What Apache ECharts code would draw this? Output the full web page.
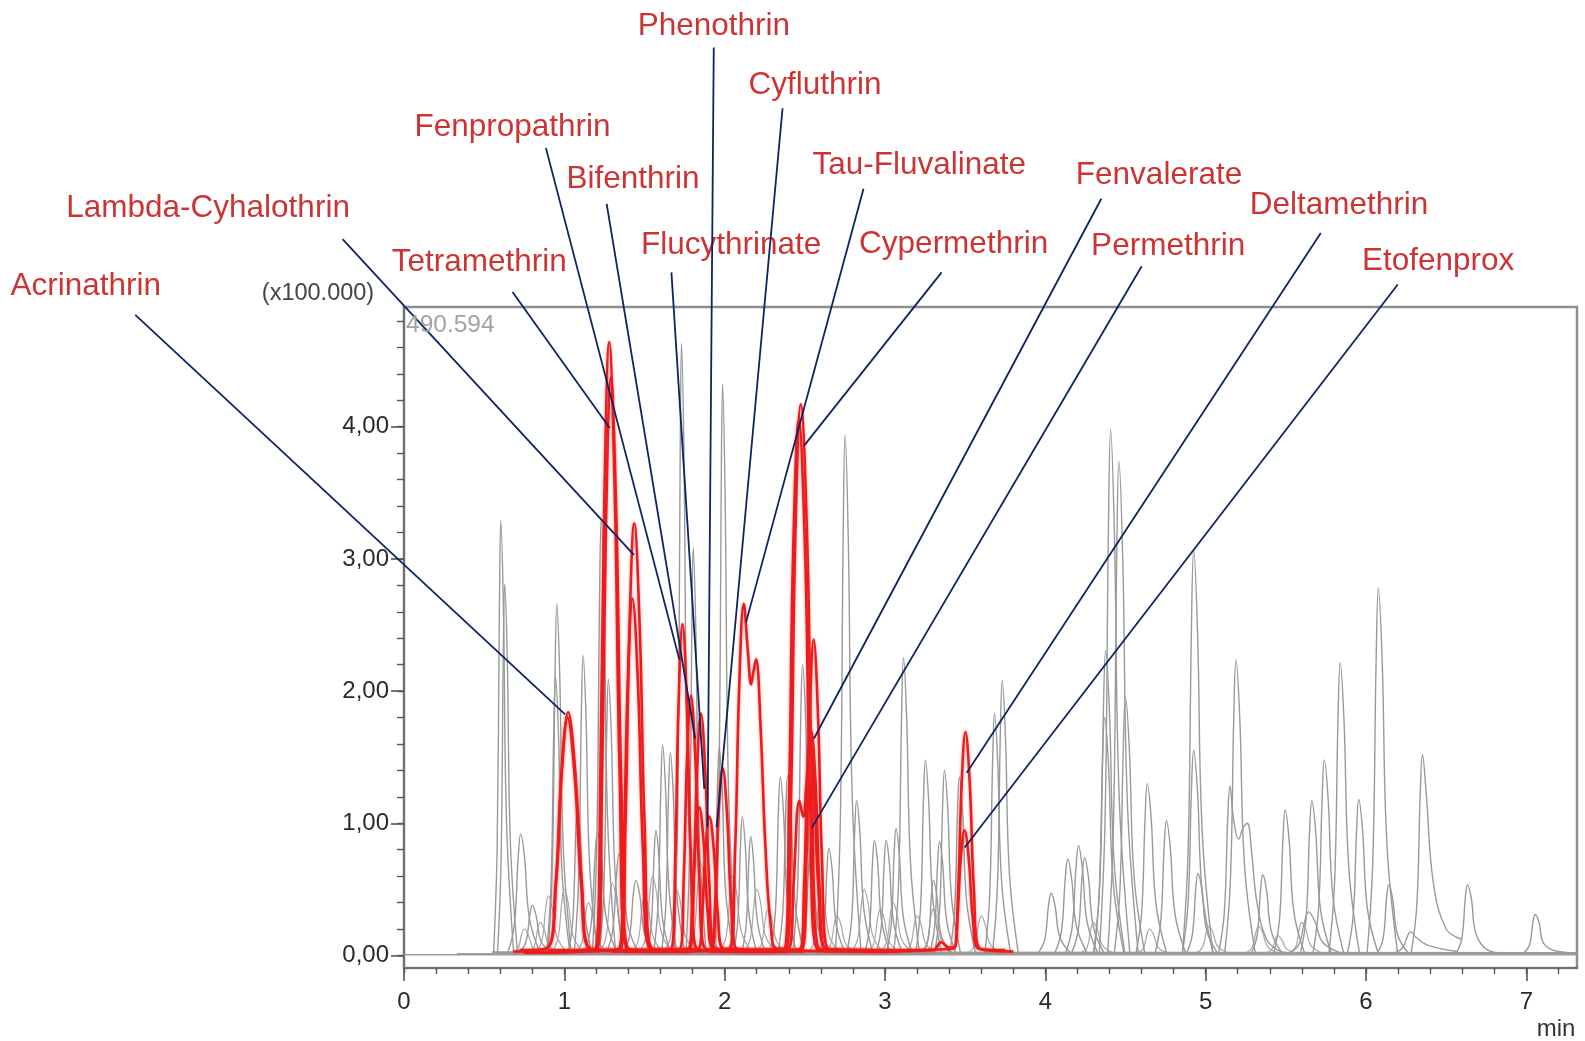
<!DOCTYPE html>
<html>
<head>
<meta charset="utf-8">
<script src="https://cdn.jsdelivr.net/npm/echarts@6/dist/echarts.min.js"></script>
<style>
html,body{margin:0;padding:0;background:#fff;}
#chart{width:1585px;height:1041px;}
</style>
</head>
<body>
<div id="chart"></div>
<script>
// Retention time (min) vs. intensity (x100.000) for each MRM trace.

// Background (non-target) transitions, early part of the run
const grayEarly = [
  [[0.559,0.02],[0.581,0.82],[0.595,2.63],[0.604,3.29],[0.620,2.63],[0.640,0.99],[0.684,0.02]],
  [[0.583,0.02],[0.605,0.70],[0.619,2.25],[0.628,2.81],[0.644,2.25],[0.664,0.84],[0.708,0.02]],
  [[0.648,0.02],[0.688,0.23],[0.712,0.74],[0.728,0.92],[0.752,0.74],[0.782,0.28],[0.848,0.02]],
  [[0.72,0.02],[0.76,0.10],[0.784,0.30],[0.80,0.38],[0.824,0.30],[0.854,0.11],[0.92,0.02]],
  [[0.898,0.02],[0.925,0.67],[0.942,2.13],[0.953,2.66],[0.971,2.13],[0.994,0.80],[1.043,0.02]],
  [[0.890,0.02],[0.917,0.53],[0.934,1.69],[0.945,2.11],[0.963,1.69],[0.986,0.63],[1.035,0.02]],
  [[1.027,0.02],[1.054,0.29],[1.071,0.92],[1.082,1.15],[1.100,0.92],[1.123,0.35],[1.172,0.02]],
  [[1.062,0.02],[1.089,0.57],[1.106,1.82],[1.117,2.27],[1.135,1.82],[1.158,0.68],[1.207,0.02]],
  [[1.127,0.02],[1.167,0.23],[1.191,0.74],[1.207,0.93],[1.231,0.74],[1.261,0.28],[1.327,0.02]],
  [[1.175,0.02],[1.202,0.83],[1.219,2.64],[1.230,3.30],[1.248,2.64],[1.271,0.99],[1.320,0.02]],
  [[1.220,0.02],[1.247,0.52],[1.264,1.67],[1.275,2.09],[1.293,1.67],[1.316,0.63],[1.365,0.02]],
  [[1.262,0.02],[1.302,0.19],[1.326,0.62],[1.342,0.77],[1.366,0.62],[1.396,0.23],[1.462,0.02]],
  [[1.366,0.02],[1.406,0.14],[1.430,0.46],[1.446,0.57],[1.470,0.46],[1.500,0.17],[1.566,0.02]],
  [[1.516,0.02],[1.543,0.24],[1.560,0.76],[1.571,0.945],[1.589,0.76],[1.612,0.28],[1.661,0.02]],
  [[1.558,0.02],[1.585,0.40],[1.602,1.27],[1.613,1.59],[1.631,1.27],[1.654,0.48],[1.703,0.02]],
  [[1.606,0.02],[1.633,0.38],[1.650,1.23],[1.661,1.535],[1.679,1.23],[1.702,0.46],[1.751,0.02]],
  [[1.686,0.02],[1.708,1.16],[1.722,3.70],[1.731,4.63],[1.747,3.70],[1.767,1.39],[1.811,0.02]],
  [[1.759,0.02],[1.781,0.77],[1.795,2.47],[1.804,3.085],[1.820,2.47],[1.840,0.93],[1.884,0.02]],
  [[1.942,0.02],[1.964,1.08],[1.978,3.46],[1.987,4.32],[2.003,3.46],[2.023,1.30],[2.067,0.02]],
  [[1.911,0.02],[1.938,0.39],[1.955,1.26],[1.966,1.575],[1.984,1.26],[2.007,0.47],[2.056,0.02]],
  [[2.055,0.02],[2.082,0.26],[2.099,0.84],[2.110,1.05],[2.128,0.84],[2.151,0.32],[2.200,0.02]],
  [[2.107,0.02],[2.134,0.23],[2.151,0.72],[2.162,0.90],[2.180,0.72],[2.203,0.27],[2.252,0.02]]
];

// Background transitions, middle part of the run
const grayMid = [
  [[2.287,0.02],[2.317,0.34],[2.335,1.08],[2.347,1.35],[2.367,1.08],[2.392,0.41],[2.447,0.02]],
  [[2.333,0.02],[2.363,0.34],[2.381,1.09],[2.393,1.36],[2.413,1.09],[2.438,0.41],[2.493,0.02]],
  [[2.426,0.02],[2.456,0.55],[2.474,1.76],[2.486,2.20],[2.506,1.76],[2.531,0.66],[2.586,0.02]],
  [[2.474,0.02],[2.504,0.20],[2.522,0.63],[2.534,0.79],[2.554,0.63],[2.579,0.24],[2.634,0.02]],
  [[2.590,0.02],[2.620,0.20],[2.638,0.65],[2.650,0.81],[2.670,0.65],[2.695,0.24],[2.750,0.02]],
  [[2.691,0.02],[2.721,0.99],[2.739,3.15],[2.751,3.94],[2.771,3.15],[2.796,1.18],[2.851,0.02]],
  [[2.763,0.02],[2.793,0.29],[2.811,0.94],[2.823,1.17],[2.843,0.94],[2.868,0.35],[2.923,0.02]],
  [[2.874,0.02],[2.904,0.22],[2.922,0.70],[2.934,0.87],[2.954,0.70],[2.979,0.26],[3.034,0.02]],
  [[2.947,0.02],[2.977,0.22],[2.995,0.70],[3.007,0.87],[3.027,0.70],[3.052,0.26],[3.107,0.02]],
  [[3.009,0.02],[3.039,0.24],[3.057,0.77],[3.069,0.96],[3.089,0.77],[3.114,0.29],[3.169,0.02]],
  [[3.055,0.02],[3.085,0.56],[3.103,1.80],[3.115,2.255],[3.135,1.80],[3.160,0.68],[3.215,0.02]],
  [[3.192,0.02],[3.222,0.37],[3.240,1.18],[3.252,1.48],[3.272,1.18],[3.297,0.44],[3.352,0.02]],
  [[3.242,0.02],[3.272,0.14],[3.290,0.46],[3.302,0.57],[3.322,0.46],[3.347,0.17],[3.402,0.02]],
  [[3.280,0.02],[3.310,0.22],[3.328,0.69],[3.340,0.86],[3.360,0.69],[3.385,0.26],[3.440,0.02]],
  [[3.311,0.02],[3.341,0.35],[3.359,1.12],[3.371,1.40],[3.391,1.12],[3.416,0.42],[3.471,0.02]],
  [[3.404,0.02],[3.434,0.34],[3.452,1.08],[3.464,1.35],[3.484,1.08],[3.509,0.41],[3.564,0.02]],
  [[3.623,0.02],[3.653,0.46],[3.671,1.46],[3.683,1.83],[3.703,1.46],[3.728,0.55],[3.783,0.02]],
  [[3.671,0.02],[3.701,0.52],[3.719,1.66],[3.731,2.08],[3.751,1.66],[3.776,0.62],[3.831,0.02]]
];

// Background transitions, late part of the run
const grayLate = [
  [[3.956,0.02],[3.996,0.12],[4.020,0.38],[4.036,0.47],[4.060,0.38],[4.090,0.14],[4.156,0.02]],
  [[4.060,0.02],[4.100,0.18],[4.124,0.58],[4.140,0.73],[4.164,0.58],[4.194,0.22],[4.260,0.02]],
  [[4.127,0.02],[4.167,0.21],[4.191,0.66],[4.207,0.83],[4.231,0.66],[4.261,0.25],[4.327,0.02]],
  [[4.165,0.02],[4.205,0.19],[4.229,0.59],[4.245,0.74],[4.269,0.59],[4.299,0.22],[4.365,0.02]],
  [[4.306,0.02],[4.341,0.58],[4.362,1.84],[4.376,2.305],[4.400,1.84],[4.430,0.69],[4.496,0.02]],
  [[4.300,0.02],[4.335,0.45],[4.356,1.44],[4.370,1.80],[4.394,1.44],[4.424,0.54],[4.490,0.02]],
  [[4.337,0.02],[4.372,1.00],[4.393,3.18],[4.407,3.98],[4.431,3.18],[4.461,1.19],[4.527,0.02]],
  [[4.389,0.02],[4.424,0.94],[4.445,2.99],[4.459,3.74],[4.483,2.99],[4.513,1.12],[4.579,0.02]],
  [[4.430,0.02],[4.465,0.49],[4.486,1.56],[4.500,1.95],[4.524,1.56],[4.554,0.59],[4.620,0.02]],
  [[4.566,0.02],[4.601,0.33],[4.622,1.04],[4.636,1.30],[4.660,1.04],[4.690,0.39],[4.756,0.02]],
  [[4.685,0.02],[4.720,0.26],[4.741,0.82],[4.755,1.02],[4.779,0.82],[4.809,0.31],[4.875,0.02]],
  [[4.855,0.02],[4.890,0.77],[4.911,2.46],[4.925,3.07],[4.949,2.46],[4.979,0.92],[5.045,0.02]],
  [[4.855,0.02],[4.890,0.39],[4.911,1.24],[4.925,1.55],[4.949,1.24],[4.979,0.47],[5.045,0.02]],
  [[4.882,0.02],[4.917,0.16],[4.938,0.50],[4.952,0.62],[4.976,0.50],[5.006,0.19],[5.072,0.02]],
  [[5.081,0.02],[5.116,0.32],[5.137,1.02],[5.151,1.28],[5.175,1.02],[5.205,0.88],[5.235,0.97],[5.260,1.00],[5.285,0.80],[5.320,0.40],[5.380,0.12],[5.450,0.04],[5.500,0.02]],
  [[5.119,0.02],[5.154,0.56],[5.175,1.79],[5.189,2.24],[5.213,1.79],[5.243,0.67],[5.309,0.02]],
  [[5.286,0.02],[5.321,0.15],[5.342,0.49],[5.356,0.61],[5.380,0.49],[5.410,0.18],[5.476,0.02]],
  [[5.426,0.02],[5.461,0.28],[5.482,0.88],[5.496,1.10],[5.520,0.88],[5.550,0.33],[5.616,0.02]],
  [[5.520,0.02],[5.580,0.08],[5.618,0.26],[5.642,0.33],[5.680,0.26],[5.730,0.10],[5.840,0.02]],
  [[5.592,0.02],[5.627,0.29],[5.648,0.94],[5.662,1.17],[5.686,0.94],[5.716,0.35],[5.782,0.02]],
  [[5.670,0.02],[5.705,0.37],[5.726,1.18],[5.740,1.48],[5.764,1.18],[5.794,0.44],[5.860,0.02]],
  [[5.769,0.02],[5.804,0.55],[5.825,1.77],[5.839,2.215],[5.863,1.77],[5.893,0.66],[5.959,0.02]],
  [[5.885,0.02],[5.920,0.30],[5.941,0.94],[5.955,1.18],[5.979,0.94],[6.009,0.35],[6.075,0.02]],
  [[6.007,0.02],[6.042,0.70],[6.063,2.22],[6.077,2.78],[6.101,2.22],[6.131,0.83],[6.197,0.02]],
  [[6.072,0.02],[6.107,0.13],[6.128,0.43],[6.142,0.535],[6.166,0.43],[6.196,0.16],[6.262,0.02]],
  [[6.180,0.02],[6.230,0.06],[6.260,0.15],[6.278,0.18],[6.310,0.14],[6.380,0.08],[6.570,0.03]],
  [[6.282,0.02],[6.317,0.38],[6.338,1.22],[6.352,1.52],[6.376,1.22],[6.420,0.55],[6.500,0.20],[6.600,0.12]],
  [[6.563,0.02],[6.598,0.13],[6.619,0.43],[6.633,0.535],[6.657,0.43],[6.687,0.16],[6.760,0.04],[6.850,0.02]],
  [[6.985,0.02],[7.020,0.08],[7.041,0.25],[7.055,0.31],[7.079,0.25],[7.109,0.09],[7.200,0.03],[7.316,0.02]]
];

// Small background peaks close to the baseline
const grayMinor = [
  [[0.67,0.02],[0.71,0.05],[0.734,0.16],[0.75,0.20],[0.774,0.16],[0.804,0.06],[0.87,0.02]],
  [[0.77,0.02],[0.81,0.06],[0.834,0.20],[0.85,0.25],[0.874,0.20],[0.904,0.08],[0.97,0.02]],
  [[0.82,0.02],[0.86,0.11],[0.884,0.36],[0.90,0.45],[0.924,0.36],[0.954,0.14],[1.02,0.02]],
  [[0.92,0.02],[0.96,0.13],[0.984,0.40],[1.00,0.50],[1.024,0.40],[1.054,0.15],[1.12,0.02]],
  [[1.07,0.02],[1.11,0.10],[1.134,0.32],[1.15,0.40],[1.174,0.32],[1.204,0.12],[1.27,0.02]],
  [[1.22,0.02],[1.26,0.14],[1.284,0.44],[1.30,0.55],[1.324,0.44],[1.354,0.17],[1.42,0.02]],
  [[1.42,0.02],[1.46,0.11],[1.484,0.36],[1.50,0.45],[1.524,0.36],[1.554,0.14],[1.62,0.02]],
  [[1.47,0.02],[1.51,0.15],[1.534,0.48],[1.55,0.60],[1.574,0.48],[1.604,0.18],[1.67,0.02]],
  [[1.62,0.02],[1.66,0.13],[1.684,0.40],[1.70,0.50],[1.724,0.40],[1.754,0.15],[1.82,0.02]],
  [[1.77,0.02],[1.81,0.18],[1.834,0.56],[1.85,0.70],[1.874,0.56],[1.904,0.21],[1.97,0.02]],
  [[1.97,0.02],[2.01,0.15],[2.034,0.48],[2.05,0.60],[2.074,0.48],[2.104,0.18],[2.17,0.02]],
  [[2.12,0.02],[2.16,0.13],[2.184,0.40],[2.20,0.50],[2.224,0.40],[2.254,0.15],[2.32,0.02]],
  [[2.19,0.02],[2.23,0.09],[2.254,0.28],[2.27,0.35],[2.294,0.28],[2.324,0.11],[2.39,0.02]],
  [[2.52,0.02],[2.56,0.11],[2.584,0.36],[2.60,0.45],[2.624,0.36],[2.654,0.14],[2.72,0.02]],
  [[2.62,0.02],[2.66,0.08],[2.684,0.24],[2.70,0.30],[2.724,0.24],[2.754,0.09],[2.82,0.02]],
  [[2.79,0.02],[2.83,0.13],[2.854,0.40],[2.87,0.50],[2.894,0.40],[2.924,0.15],[2.99,0.02]],
  [[2.89,0.02],[2.93,0.09],[2.954,0.28],[2.97,0.35],[2.994,0.28],[3.024,0.11],[3.09,0.02]],
  [[2.97,0.02],[3.01,0.10],[3.034,0.32],[3.05,0.40],[3.074,0.32],[3.104,0.12],[3.17,0.02]],
  [[3.12,0.02],[3.16,0.08],[3.184,0.24],[3.20,0.30],[3.224,0.24],[3.254,0.09],[3.32,0.02]],
  [[3.22,0.02],[3.26,0.09],[3.284,0.28],[3.30,0.35],[3.324,0.28],[3.354,0.11],[3.42,0.02]],
  [[3.52,0.02],[3.56,0.08],[3.584,0.24],[3.60,0.30],[3.624,0.24],[3.654,0.09],[3.72,0.02]],
  [[4.22,0.02],[4.26,0.06],[4.284,0.20],[4.30,0.25],[4.324,0.20],[4.354,0.08],[4.42,0.02]],
  [[4.57,0.02],[4.61,0.05],[4.634,0.16],[4.65,0.20],[4.674,0.16],[4.704,0.06],[4.77,0.02]],
  [[4.94,0.02],[4.98,0.06],[5.004,0.18],[5.02,0.22],[5.044,0.18],[5.074,0.07],[5.14,0.02]],
  [[5.25,0.02],[5.29,0.06],[5.314,0.18],[5.33,0.22],[5.354,0.18],[5.384,0.07],[5.45,0.02]],
  [[5.37,0.02],[5.41,0.04],[5.434,0.12],[5.45,0.15],[5.474,0.12],[5.504,0.05],[5.57,0.02]],
  [[5.52,0.02],[5.56,0.06],[5.584,0.20],[5.60,0.25],[5.624,0.20],[5.654,0.08],[5.72,0.02]]
];

// Baselines of the recorded transitions
const baselines = [
  [[0.00,0.005],[7.316,0.005]],
  [[0.33,0.012],[7.316,0.012]],
  [[0.55,0.025],[7.30,0.02]]
];

// Pyrethroid transitions
const redTraces = [
  [[0.68,0.03],[0.890,0.05],[0.949,0.55],[0.984,1.38],[1.024,1.84],[1.069,1.38],[1.109,0.55],[1.164,0.05],[1.45,0.03]],
  [[0.72,0.04],[0.886,0.05],[0.945,0.54],[0.980,1.35],[1.020,1.80],[1.065,1.35],[1.105,0.54],[1.160,0.05],[1.30,0.04]],
  [[0.75,0.02],[1.195,0.05],[1.225,1.39],[1.250,3.48],[1.280,4.64],[1.315,3.48],[1.345,1.39],[1.390,0.05],[1.60,0.03]],
  [[0.90,0.04],[1.205,0.05],[1.235,1.31],[1.260,3.28],[1.290,4.37],[1.325,3.28],[1.355,1.31],[1.400,0.05],[1.70,0.04]],
  [[1.00,0.03],[1.351,0.05],[1.381,0.98],[1.406,2.45],[1.436,3.27],[1.471,2.45],[1.501,0.98],[1.546,0.05],[1.80,0.03]],
  [[1.10,0.04],[1.340,0.05],[1.370,0.81],[1.395,2.03],[1.425,2.70],[1.460,2.03],[1.490,0.81],[1.535,0.05],[1.75,0.04]],
  [[1.30,0.03],[1.667,0.05],[1.692,0.75],[1.712,1.88],[1.737,2.507],[1.765,1.88],[1.789,0.75],[1.827,0.05],[2.20,0.03]],
  [[1.35,0.04],[1.720,0.05],[1.745,0.59],[1.765,1.47],[1.790,1.965],[1.818,1.47],[1.842,0.59],[1.880,0.05],[2.30,0.03]],
  [[1.40,0.03],[1.782,0.05],[1.807,0.55],[1.827,1.37],[1.852,1.83],[1.880,1.37],[1.904,0.55],[1.942,0.05],[2.40,0.03]],
  [[1.50,0.04],[1.772,0.05],[1.797,0.34],[1.817,0.84],[1.842,1.12],[1.870,0.84],[1.894,0.34],[1.932,0.05],[2.30,0.04]],
  [[1.55,0.04],[1.835,0.05],[1.860,0.32],[1.880,0.79],[1.905,1.05],[1.933,0.79],[1.957,0.32],[1.995,0.05],[2.40,0.04]],
  [[1.60,0.03],[1.917,0.05],[1.942,0.43],[1.962,1.07],[1.987,1.42],[2.015,1.07],[2.039,0.43],[2.077,0.05],[2.50,0.03]],
  [[1.70,0.03],[2.030,0.05],[2.065,0.80],[2.090,2.00],[2.119,2.66],[2.145,2.30],[2.165,2.05],[2.180,2.15],[2.196,2.24],[2.225,1.70],[2.255,0.80],[2.290,0.20],[2.330,0.05],[2.80,0.03]],
  [[1.90,0.03],[2.385,0.05],[2.415,1.25],[2.440,3.13],[2.475,4.17],[2.515,3.13],[2.545,1.25],[2.590,0.05],[3.00,0.03]],
  [[2.00,0.04],[2.372,0.05],[2.402,1.22],[2.427,3.04],[2.462,4.05],[2.502,3.04],[2.532,1.22],[2.577,0.05],[2.90,0.04]],
  [[2.10,0.03],[2.485,0.05],[2.510,0.72],[2.530,1.79],[2.555,2.39],[2.583,1.79],[2.607,0.72],[2.645,0.05],[3.10,0.03]],
  [[2.20,0.04],[2.470,0.05],[2.495,0.51],[2.515,1.28],[2.540,1.70],[2.568,1.28],[2.592,0.51],[2.630,0.05],[3.00,0.04]],
  [[2.20,0.03],[2.400,0.05],[2.430,0.55],[2.466,1.17],[2.490,1.05],[2.510,1.30],[2.530,1.62],[2.558,1.25],[2.585,0.50],[2.630,0.05],[3.05,0.03]],
  [[2.90,0.03],[3.300,0.04],[3.350,0.10],[3.400,0.06],[3.432,0.06],[3.457,0.51],[3.477,1.27],[3.502,1.69],[3.530,1.27],[3.554,0.51],[3.592,0.05],[3.80,0.03]],
  [[3.00,0.04],[3.426,0.05],[3.451,0.28],[3.471,0.71],[3.496,0.946],[3.524,0.71],[3.548,0.28],[3.586,0.05],[3.75,0.04]]
];

// Compound labels: label centre, leader start and leader tip (min, x100.000)
const compoundNames = ['Acrinathrin','Lambda-Cyhalothrin','Tetramethrin','Fenpropathrin','Bifenthrin',
  'Flucythrinate','Phenothrin','Cyfluthrin','Tau-Fluvalinate','Cypermethrin','Fenvalerate',
  'Permethrin','Deltamethrin','Etofenprox'];
const labelAt = [[-1.985,5.061],[-1.222,5.656],[0.469,5.244],[0.677,6.267],[1.428,5.87],
  [2.04,5.374],[1.933,7.03],[2.564,6.58],[3.214,5.977],[3.428,5.382],[4.709,5.901],
  [4.766,5.366],[5.832,5.679],[6.45,5.252]];
const leaderFrom = [[-1.676,4.847],[-0.383,5.42],[0.677,5.02],[0.885,6.11],[1.264,5.687],
  [1.668,5.168],[1.932,6.87],[2.361,6.41],[2.866,5.80],[3.353,5.168],[4.349,5.725],
  [4.601,5.214],[5.718,5.466],[6.198,5.076]];
const leaderTo = [[1.005,1.824],[1.434,3.03],[1.283,3.99],[1.717,2.24],[1.816,1.64],
  [1.873,1.26],[1.893,0.97],[1.95,0.97],[2.133,2.52],[2.494,3.855],[2.557,1.641],
  [2.545,0.969],[3.51,1.382],[3.497,0.817]];

// Axis ticks
const xMajorTicks = [0,1,2,3,4,5,6,7];
const xMinorTicks = [0,0.2,0.4,0.6,0.8,1,1.2,1.4,1.6,1.8,2,2.2,2.4,2.6,2.8,3,3.2,3.4,3.6,3.8,
  4,4.2,4.4,4.6,4.8,5,5.2,5.4,5.6,5.8,6,6.2,6.4,6.6,6.8,7,7.2];
const yMajorTicks = [0,1,2,3,4];
const yMinorTicks = [0,0.2,0.4,0.6,0.8,1,1.2,1.4,1.6,1.8,2,2.2,2.4,2.6,2.8,3,3.2,3.4,3.6,3.8,4,4.2,4.4,4.6,4.8];

const X_MAX = 7.316, Y_MIN = -0.095, Y_MAX = 4.906;
const FONT = 'Liberation Sans, Arial, Helvetica, sans-serif';

function trace(points, color, width, z, extra) {
  return Object.assign({
    type: 'line', data: points, symbol: 'none', smooth: 0.4,
    silent: true, z: z, lineStyle: { color: color, width: width }
  }, extra || {});
}

const series = [];
baselines.forEach(b => series.push(trace(b, '#9c9c9c', 1.6, 2)));
grayMinor.forEach(p => series.push(trace(p, '#a8a8a8', 1.2, 2)));
grayEarly.concat(grayMid, grayLate).forEach(p => series.push(trace(p, '#999999', 1.4, 3)));
redTraces.forEach(p => series.push(trace(p, '#ec1c1c', 2.6, 5, {
  lineStyle: { color: '#ec1c1c', width: 2.6, shadowColor: 'rgba(255,40,40,0.45)', shadowBlur: 3 }
})));
series.push({
  type: 'scatter', clip: false, silent: true, z: 9, symbolSize: 1,
  itemStyle: { color: 'rgba(0,0,0,0)' },
  data: labelAt.map((p, i) => ({ value: p, name: compoundNames[i] })),
  label: { show: true, position: 'inside', formatter: '{b}', color: '#c00000',
    fontSize: 31.5, fontFamily: FONT }
});

const textGraphics = [
  { type: 'text', x: 318, y: 294, z: 20,
    style: { text: '(x100.000)', fontSize: 23.5, fontFamily: FONT, fill: '#444',
      textAlign: 'center', textVerticalAlign: 'middle' } },
  { type: 'text', x: 406, y: 325, z: 20,
    style: { text: '490.594', fontSize: 24.5, fontFamily: FONT, fill: '#a3a3a3',
      textAlign: 'left', textVerticalAlign: 'middle' } },
  { type: 'text', x: 1556, y: 1029, z: 20,
    style: { text: 'min', fontSize: 24, fontFamily: FONT, fill: '#333',
      textAlign: 'center', textVerticalAlign: 'middle' } }
];

const tickColor = '#555';
const chart = echarts.init(document.getElementById('chart'), null, { renderer: 'canvas' });
chart.setOption({
  animation: false,
  backgroundColor: '#ffffff',
  grid: { left: 404, right: 8, top: 307, bottom: 73, show: true,
    borderColor: '#8e8e8e', borderWidth: 2.5, backgroundColor: 'transparent' },
  xAxis: [
    { type: 'value', min: 0, max: X_MAX, position: 'bottom',
      axisLine: { show: true, onZero: false, lineStyle: { color: '#707070', width: 2 } },
      axisTick: { show: true, customValues: xMajorTicks, length: 13, lineStyle: { color: tickColor, width: 1.6 } },
      axisLabel: { customValues: xMajorTicks, margin: 22, fontSize: 24, color: '#2a2a2a', fontFamily: FONT },
      splitLine: { show: false } },
    { type: 'value', min: 0, max: X_MAX, position: 'bottom',
      axisLine: { show: false, onZero: false },
      axisTick: { show: true, customValues: xMinorTicks, length: 6, lineStyle: { color: tickColor, width: 1.4 } },
      axisLabel: { show: false }, splitLine: { show: false } }
  ],
  yAxis: [
    { type: 'value', min: Y_MIN, max: Y_MAX, position: 'left',
      axisLine: { show: true, onZero: false, lineStyle: { color: '#707070', width: 2 } },
      axisTick: { show: true, customValues: yMajorTicks, length: 13, lineStyle: { color: tickColor, width: 1.6 } },
      axisLabel: { customValues: yMajorTicks, margin: 15, fontSize: 24, color: '#2a2a2a', fontFamily: FONT,
        formatter: v => v.toFixed(2).replace('.', ',') },
      splitLine: { show: false } },
    { type: 'value', min: Y_MIN, max: Y_MAX, position: 'left',
      axisLine: { show: false, onZero: false },
      axisTick: { show: true, customValues: yMinorTicks, length: 7, lineStyle: { color: tickColor, width: 1.4 } },
      axisLabel: { show: false }, splitLine: { show: false } }
  ],
  graphic: textGraphics,
  series: series
});

// Leader lines from each compound name to its peak, placed through the axis scales
const toPx = p => chart.convertToPixel({ xAxisIndex: 0, yAxisIndex: 0 }, p);
const leaderGraphics = leaderFrom.map((from, i) => {
  const a = toPx(from), b = toPx(leaderTo[i]);
  return { type: 'line', z: 15, silent: true,
    shape: { x1: a[0], y1: a[1], x2: b[0], y2: b[1] },
    style: { stroke: '#0c2461', lineWidth: 1.8 } };
});
chart.setOption({ graphic: textGraphics.concat(leaderGraphics) });
</script>
</body>
</html>
